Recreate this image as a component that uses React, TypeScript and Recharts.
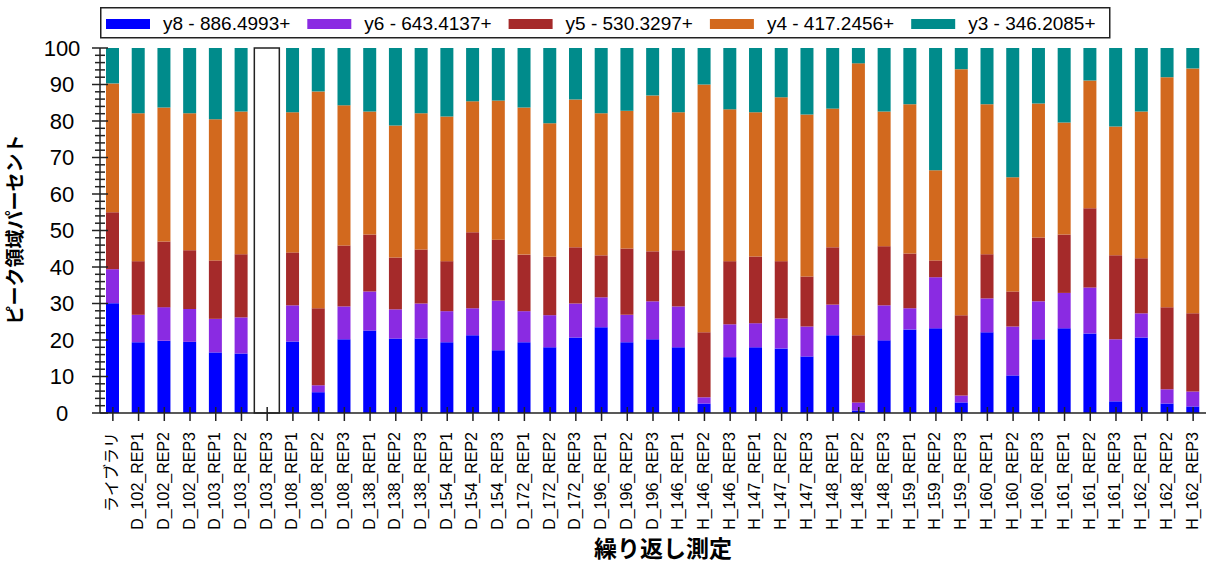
import { Bar, BarChart, Label, Legend, XAxis, YAxis } from "recharts";

const FONT = '"Liberation Sans", Arial, "Noto Sans CJK JP", sans-serif';
const JP_FONT = '"Noto Sans CJK JP", "Liberation Sans", sans-serif';

const replicates = [
  "ライブラリ",
  "D_102_REP1", "D_102_REP2", "D_102_REP3",
  "D_103_REP1", "D_103_REP2", "D_103_REP3",
  "D_108_REP1", "D_108_REP2", "D_108_REP3",
  "D_138_REP1", "D_138_REP2", "D_138_REP3",
  "D_154_REP1", "D_154_REP2", "D_154_REP3",
  "D_172_REP1", "D_172_REP2", "D_172_REP3",
  "D_196_REP1", "D_196_REP2", "D_196_REP3",
  "H_146_REP1", "H_146_REP2", "H_146_REP3",
  "H_147_REP1", "H_147_REP2", "H_147_REP3",
  "H_148_REP1", "H_148_REP2", "H_148_REP3",
  "H_159_REP1", "H_159_REP2", "H_159_REP3",
  "H_160_REP1", "H_160_REP2", "H_160_REP3",
  "H_161_REP1", "H_161_REP2", "H_161_REP3",
  "H_162_REP1", "H_162_REP2", "H_162_REP3",
];

// peak area percent per transition (null = no measurement)
const y8 = [30.1, 19.4, 19.8, 19.5, 16.6, 16.3, null, 19.6, 5.7, 20.2, 22.6, 20.4, 20.4, 19.4, 21.3, 17.2, 19.4, 18.0, 20.7, 23.5, 19.4, 20.2, 18.0, 2.6, 15.3, 18.0, 17.7, 15.5, 21.3, 0.7, 19.9, 22.9, 23.2, 2.9, 22.1, 10.3, 20.2, 23.2, 21.8, 3.2, 20.7, 2.6, 1.8];
const y6 = [9.3, 7.5, 9.2, 9.0, 9.2, 9.9, null, 9.9, 1.9, 9.0, 10.7, 8.0, 9.6, 8.5, 7.4, 13.6, 8.5, 8.8, 9.3, 8.2, 7.5, 10.4, 11.2, 1.7, 9.0, 6.6, 8.2, 8.2, 8.4, 2.2, 9.6, 5.8, 14.0, 1.9, 9.3, 13.4, 10.4, 9.7, 12.6, 17.0, 6.6, 3.9, 4.1];
const y5 = [15.6, 14.7, 18.0, 16.1, 16.0, 17.3, null, 14.5, 21.1, 16.7, 15.6, 14.2, 14.8, 13.7, 20.8, 16.7, 15.5, 16.0, 15.4, 11.5, 18.2, 13.7, 15.4, 17.8, 17.3, 18.3, 15.7, 13.7, 15.7, 18.4, 16.2, 15.0, 4.6, 22.0, 12.1, 9.6, 17.5, 16.0, 21.7, 23.0, 15.1, 22.5, 21.4];
const y4 = [35.3, 40.5, 36.7, 37.5, 38.7, 39.1, null, 38.4, 59.4, 38.4, 33.7, 36.2, 37.3, 39.6, 35.9, 38.1, 40.3, 36.6, 40.5, 38.9, 37.7, 42.7, 37.8, 67.9, 41.6, 39.5, 44.9, 44.4, 38.0, 74.5, 36.9, 40.9, 24.7, 67.4, 41.1, 31.3, 36.7, 30.7, 35.0, 35.3, 40.2, 63.0, 67.1];
const y3 = [9.7, 17.9, 16.3, 17.9, 19.5, 17.4, null, 17.6, 11.9, 15.7, 17.4, 21.2, 17.9, 18.8, 14.6, 14.4, 16.3, 20.6, 14.1, 17.9, 17.2, 13.0, 17.6, 10.0, 16.8, 17.6, 13.5, 18.2, 16.6, 4.2, 17.4, 15.4, 33.5, 5.8, 15.4, 35.4, 15.2, 20.4, 8.9, 21.5, 17.4, 8.0, 5.6];
// replicate with no peaks: drawn as an empty full-height frame
const missing = replicates.map((r) => (r === "D_103_REP3" ? 100 : null));

const series = [
  { key: "y8", name: "y8 - 886.4993+", color: "#0000FF", values: y8 },
  { key: "y6", name: "y6 - 643.4137+", color: "#8A2BE2", values: y6 },
  { key: "y5", name: "y5 - 530.3297+", color: "#A52A2A", values: y5 },
  { key: "y4", name: "y4 - 417.2456+", color: "#D2691E", values: y4 },
  { key: "y3", name: "y3 - 346.2085+", color: "#008B8B", values: y3 },
];
const seriesOrder = series.map((s) => s.name);

const yTicks = Array.from({ length: 51 }, (_, i) => i * 2);

const rows = replicates.map((name, i) => {
  const row: Record<string, string | number | null> = { name, missing: missing[i] };
  series.forEach((s) => { row[s.key] = s.values[i]; });
  return row;
});

function YTick({ x, y, payload }: any) {
  const major = payload.value % 10 === 0;
  const len = major ? 8 : 5;
  return (
    <g>
      <line x1={x - len} x2={x + len} y1={y} y2={y} stroke="#222" strokeWidth={1.5} />
      {major && (
        <text x={x - 38} y={y} dy="0.36em" textAnchor="middle" fontSize={22} fontFamily={FONT} fill="#000">
          {payload.value}
        </text>
      )}
    </g>
  );
}

function XTick({ x, y, payload }: any) {
  return (
    <g>
      <line x1={x} x2={x} y1={y - 6} y2={y + 8} stroke="#222" strokeWidth={1.5} />
      <text
        transform={`translate(${x + 4.5},${y + 19}) rotate(-90)`}
        textAnchor="end"
        fontSize={16}
        fontFamily={FONT}
        fill="#000"
      >
        {payload.value}
      </text>
    </g>
  );
}

function LegendBox({ payload }: any) {
  // keep the stacking order (bottom series first)
  const items = (payload || [])
    .filter((p: any) => p.type !== "none")
    .sort((a: any, b: any) => seriesOrder.indexOf(a.value) - seriesOrder.indexOf(b.value));
  return (
    <svg width={1012} height={32}>
      <rect x={0.75} y={0.75} width={1009} height={30} fill="#fff" stroke="#222" strokeWidth={1.5} />
      {items.map((p: any, i: number) => (
        <g key={p.value} transform={`translate(${6 + i * 201.3},0)`}>
          <rect x={0} y={12} width={44} height={10} fill={p.color} />
          <text x={57} y={23} fontSize={19} fontFamily={FONT} fill="#000">{p.value}</text>
        </g>
      ))}
    </svg>
  );
}

export default function App() {
  return (
    <div style={{ position: "absolute", left: 0, top: 0, width: 1207, height: 564, background: "#fff" }}>
      <BarChart width={1207} height={564} data={rows} margin={{ top: 48, right: 1, bottom: 0, left: 0 }}>
        <XAxis
          dataKey="name"
          interval={0}
          height={151}
          tickSize={0}
          tickMargin={0}
          tickLine={false}
          tick={<XTick />}
          axisLine={{ stroke: "#222", strokeWidth: 1.5 }}
        >
          <Label
            content={({ viewBox }: any) => (
              <text
                x={viewBox.x + viewBox.width / 2 + 10}
                y={557}
                textAnchor="middle"
                fontSize={23}
                fontWeight="bold"
                fontFamily={JP_FONT}
                fill="#000"
              >
                繰り返し測定
              </text>
            )}
          />
        </XAxis>
        <XAxis xAxisId="frame" dataKey="name" hide />
        <YAxis
          width={100}
          domain={[0, 100]}
          ticks={yTicks}
          interval={0}
          tickSize={0}
          tickMargin={0}
          tickLine={false}
          tick={<YTick />}
          axisLine={{ stroke: "#222", strokeWidth: 1.5 }}
        >
          <Label
            content={({ viewBox }: any) => (
              <text
                transform={`translate(17,${viewBox.y + viewBox.height / 2 - 1}) rotate(-90)`}
                dy="0.25em"
                textAnchor="middle"
                fontSize={19}
                fontWeight="bold"
                fontFamily={JP_FONT}
                fill="#000"
              >
                ピーク領域パーセント
              </text>
            )}
          />
        </YAxis>
        <Legend
          layout="horizontal"
          verticalAlign="middle"
          align="center"
          itemSorter={null}
          content={<LegendBox />}
          wrapperStyle={{ left: 100, top: 7, width: 1012, height: 32 }}
        />
        <Bar
          xAxisId="frame"
          dataKey="missing"
          barSize={25}
          fill="#fff"
          stroke="#222"
          strokeWidth={1.5}
          legendType="none"
          isAnimationActive={false}
        />
        {series.map((s) => (
          <Bar
            key={s.key}
            dataKey={s.key}
            name={s.name}
            stackId="area"
            fill={s.color}
            barSize={13}
            isAnimationActive={false}
          />
        ))}
      </BarChart>
    </div>
  );
}
